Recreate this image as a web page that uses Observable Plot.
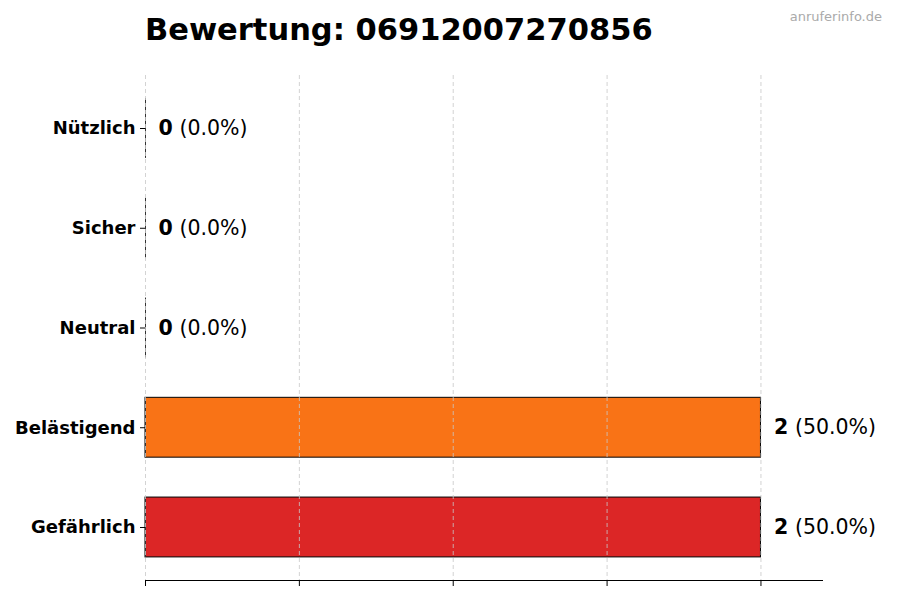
<!DOCTYPE html>
<html>
<head>
<meta charset="utf-8">
<script src="https://cdn.jsdelivr.net/npm/d3@7"></script>
<script src="https://cdn.jsdelivr.net/npm/@observablehq/plot@0.6"></script>
<style>
  html, body { margin: 0; padding: 0; background: #fff; }
  #wrap { position: relative; width: 900px; height: 600px; font-family: "DejaVu Sans", sans-serif; }
  #title { position: absolute; left: 145px; top: 15px; font-size: 30.5px; line-height: 30.5px; font-weight: bold; color: #000; white-space: nowrap; }
  #wm { position: absolute; right: 18px; top: 10px; font-size: 13px; line-height: 13px; color: #aaaaaa; white-space: nowrap; }
  #chart { position: absolute; left: 0; top: 0; }
</style>
</head>
<body>
<div id="wrap">
  <div id="chart"></div>
  <div id="title">Bewertung: 06912007270856</div>
  <div id="wm">anruferinfo.de</div>
</div>
<script>
const categories = ["Nützlich", "Sicher", "Neutral", "Belästigend", "Gefährlich"];
const counts = [0, 0, 0, 2, 2];
const percents = [0.0, 0.0, 0.0, 50.0, 50.0];
const colors = ["#22C55E", "#3B82F6", "#9CA3AF", "#F97316", "#DC2626"];
const xTicks = [0, 0.5, 1, 1.5, 2];

const data = categories.map((c, i) => ({
  cat: c, count: counts[i], pct: percents[i], color: colors[i]
}));

const chart = Plot.plot({
  width: 900,
  height: 600,
  marginTop: 75,
  marginBottom: 20,
  marginLeft: 145,
  marginRight: 78,
  style: { fontFamily: "DejaVu Sans, sans-serif", background: "transparent" },
  x: { domain: [0, 2.2], axis: null, label: null },
  y: { domain: categories, paddingInner: 0.4, paddingOuter: 0.2315, round: false, axis: null, label: null },
  marks: [
    Plot.barX(data, { y: "cat", x1: 0, x2: "count", fill: "color", stroke: "#000", strokeWidth: 1 }),
    Plot.tickX(data, { y: "cat", x: 0, stroke: "#333", strokeWidth: 1 }),
    Plot.ruleX(xTicks, { stroke: "#c8c8c8", strokeWidth: 0.8, strokeDasharray: "4,3" }),
    Plot.frame({ anchor: "bottom", stroke: "#000", strokeWidth: 1 }),
    Plot.axisX({ ticks: xTicks, tickFormat: () => "", tickSize: 6, stroke: "#000", label: null }),
    Plot.axisY({ tickSize: 5, tickPadding: 5, fontSize: 18, fontWeight: "bold", fill: "#000", stroke: "#000", label: null }),
    Plot.text(data, { y: "cat", x: "count", text: d => String(d.count), textAnchor: "start", dx: 13, fontSize: 20.5, fontWeight: "bold", fill: "#000" }),
    Plot.text(data, { y: "cat", x: "count", text: d => "(" + d.pct.toFixed(1) + "%)", textAnchor: "start", dx: 34, fontSize: 20.5, fill: "#000" })
  ]
});
document.getElementById("chart").appendChild(chart);
</script>
</body>
</html>
